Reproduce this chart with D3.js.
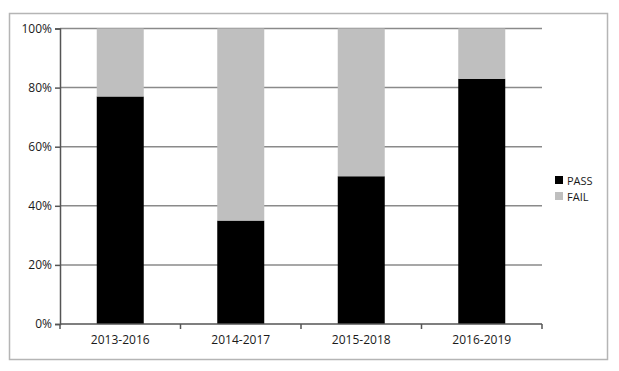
<!DOCTYPE html>
<html>
<head>
<meta charset="utf-8">
<script src="https://cdn.jsdelivr.net/npm/d3@7"></script>
<style>
  body { margin: 0; background: #fff; }
  text { font-family: "Open Sans", "Liberation Sans", sans-serif; fill: #1a1a1a; }
</style>
</head>
<body>
<svg width="619" height="371"></svg>
<script>
const categories = ["2013-2016", "2014-2017", "2015-2018", "2016-2019"];
const pass = [77, 35, 50, 83];
const fail = pass.map((d) => 100 - d);
const yTicks = [0, 20, 40, 60, 80, 100];
const seriesNames = ["PASS", "FAIL"];
const seriesColors = ["#000000", "#bfbfbf"];

const svg = d3.select("svg");

// outer frame
svg.append("rect")
  .attr("x", 9.5).attr("y", 13.5)
  .attr("width", 598).attr("height", 346)
  .attr("fill", "#fff")
  .attr("stroke", "#b5b5b5")
  .attr("stroke-width", 1.5);

const plot = { left: 60, right: 542, top: 28.5, bottom: 324 };

const x = d3.scaleBand().domain(categories).range([plot.left, plot.right]).paddingInner(0.61).paddingOuter(0.305);
const xTick = d3.scalePoint().domain(d3.range(categories.length + 1)).range([plot.left, plot.right]);
const y = d3.scaleLinear().domain([0, 100]).range([plot.bottom, plot.top]);

// gridlines
svg.append("g")
  .selectAll("line")
  .data(yTicks.filter((d) => d > 0))
  .enter()
  .append("line")
  .attr("x1", plot.left).attr("x2", plot.right)
  .attr("y1", (d) => y(d)).attr("y2", (d) => y(d))
  .attr("stroke", "#8a8a8a")
  .attr("stroke-width", 1.5);

// stacked bars
const rows = categories.map((c, i) => ({ cat: c, PASS: pass[i], FAIL: fail[i] }));
const stacked = d3.stack().keys(seriesNames)(rows);

svg.append("g")
  .selectAll("g")
  .data(stacked)
  .enter()
  .append("g")
  .attr("fill", (d, i) => seriesColors[i])
  .selectAll("rect")
  .data((d) => d)
  .enter()
  .append("rect")
  .attr("x", (d) => x(d.data.cat))
  .attr("width", x.bandwidth())
  .attr("y", (d) => y(d[1]))
  .attr("height", (d) => y(d[0]) - y(d[1]));

// y axis
const yAxis = svg.append("g")
  .attr("transform", `translate(${plot.left},0)`)
  .call(d3.axisLeft(y).tickValues(yTicks).tickFormat((d) => d + "%").tickSize(5).tickPadding(3));
yAxis.select(".domain").attr("stroke", "#555").attr("stroke-width", 1.5);
yAxis.selectAll(".tick line").attr("stroke", "#555").attr("stroke-width", 1.5);
yAxis.selectAll("text").style("font-size", "12px").style("fill", "#1a1a1a")
  .style("font-family", "\"Open Sans\", sans-serif");

// x axis
const xAxisG = svg.append("g").attr("transform", `translate(0,${plot.bottom})`);
xAxisG.append("line")
  .attr("x1", plot.left).attr("x2", plot.right)
  .attr("stroke", "#555").attr("stroke-width", 1.5);
xAxisG.selectAll("line.tk")
  .data(d3.range(categories.length + 1))
  .enter()
  .append("line")
  .attr("class", "tk")
  .attr("x1", (d) => xTick(d)).attr("x2", (d) => xTick(d))
  .attr("y1", 0).attr("y2", 5)
  .attr("stroke", "#555").attr("stroke-width", 1.5);
xAxisG.selectAll("text")
  .data(categories)
  .enter()
  .append("text")
  .attr("x", (d) => x(d) + x.bandwidth() / 2)
  .attr("y", 20)
  .attr("text-anchor", "middle")
  .style("font-size", "12px")
  .text((d) => d);

// legend
const legend = svg.append("g").attr("transform", "translate(555,176)");
seriesNames.forEach((name, i) => {
  const g = legend.append("g").attr("transform", `translate(0,${i * 16})`);
  g.append("rect").attr("width", 8).attr("height", 8).attr("fill", seriesColors[i]);
  g.append("text").attr("x", 12).attr("y", 8.5).style("font-size", "11px").text(name);
});
</script>
</body>
</html>
